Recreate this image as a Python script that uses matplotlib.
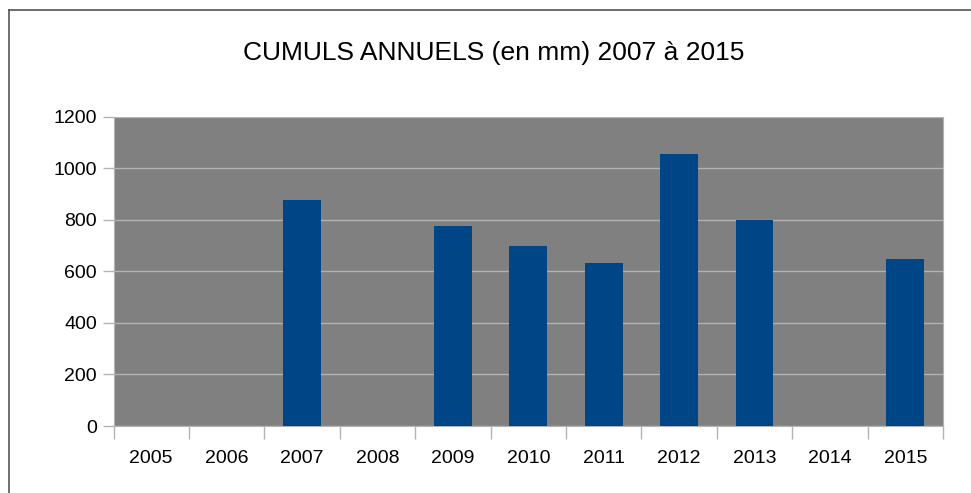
import numpy as np
import matplotlib
matplotlib.use("Agg")
import matplotlib.pyplot as plt
from matplotlib.lines import Line2D

# Data (NaN = no bar).
years = ["2005", "2006", "2007", "2008", "2009", "2010", "2011", "2012", "2013", "2014", "2015"]
cumuls = [np.nan, np.nan, 878, np.nan, 777, 699, 633, 1056, 800, np.nan, 648]
y_ticks = [0, 200, 400, 600, 800, 1000, 1200]

plt.rcParams['font.family'] = ['Liberation Sans', 'DejaVu Sans']

fig = plt.figure(figsize=(9.71, 4.93), dpi=100)
ax = fig.add_axes([0.1169, 0.1359, 0.9712 - 0.1169, 0.7627 - 0.1359])

x = np.arange(len(years))
ax.bar(x, cumuls, width=0.5, color="#004586", zorder=3)

# Axes look.
ax.set_facecolor("#808080")
ax.set_xlim(-0.5, len(years) - 0.5)
ax.set_ylim(0, 1200)
ax.set_yticks(y_ticks)
ax.set_yticklabels([str(v) for v in y_ticks], fontsize=14)
ax.set_xticks(x)
ax.set_xticklabels(years, fontsize=14)
ax.set_xticks(np.arange(len(years) + 1) - 0.5, minor=True)
ax.tick_params(axis="x", which="major", length=0, pad=17)
ax.tick_params(axis="x", which="minor", length=9, color="#b3b3b3", width=1)
ax.tick_params(axis="y", length=8, color="#b3b3b3", width=1, pad=4)
ax.grid(axis="y", color="#b3b3b3", linewidth=1, zorder=1)
ax.set_axisbelow(True)
for side in ["left", "bottom", "right"]:
    ax.spines[side].set_color("#b3b3b3")
ax.spines["top"].set_visible(False)

fig.text(494 / 971, 1 - 53 / 493, "CUMULS ANNUELS (en mm) 2007 à 2015",
         ha="center", va="center", fontsize=19)

# Frame around the chart.
fx, fy = 8.5 / 971, 1 - 9.5 / 493
fig.add_artist(Line2D([fx, 1], [fy, fy], color="#555555", linewidth=1.2))
fig.add_artist(Line2D([fx, fx], [0, fy], color="#555555", linewidth=1.2))

fig.savefig("out.png", dpi=100, facecolor="white")
